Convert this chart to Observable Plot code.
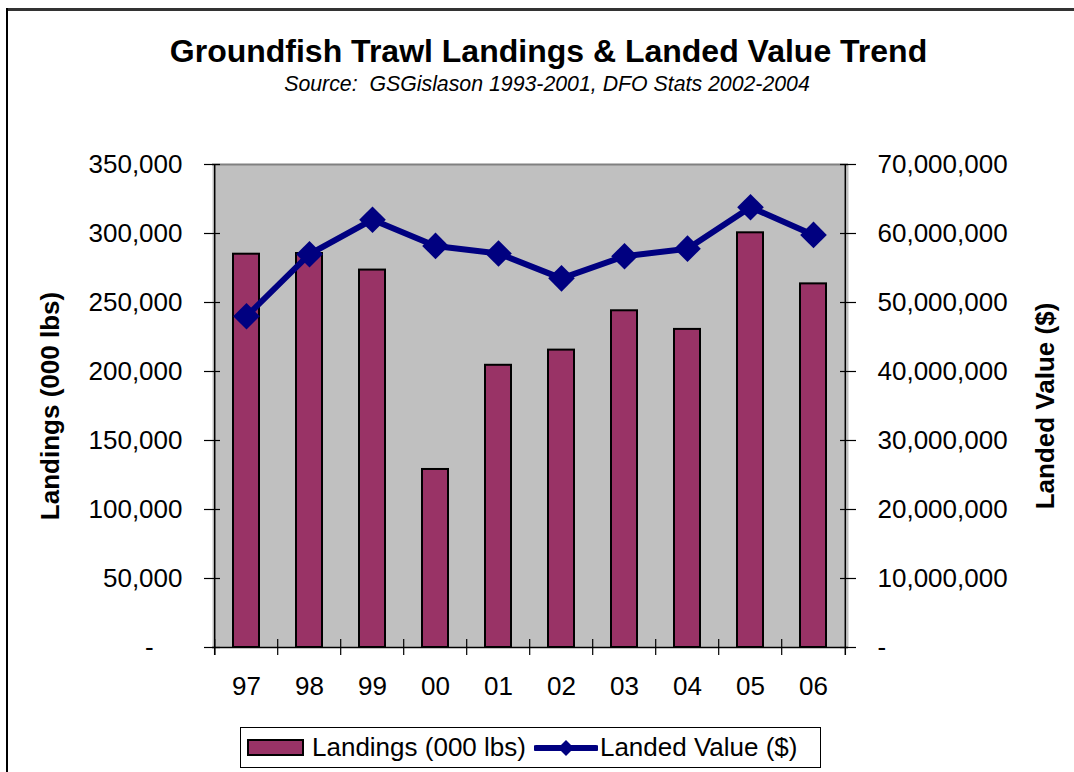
<!DOCTYPE html>
<html><head><meta charset="utf-8">
<script src="https://cdn.jsdelivr.net/npm/d3@7"></script>
<script src="https://cdn.jsdelivr.net/npm/@observablehq/plot@0.6"></script>
<style>
body{margin:0;background:#fff;font-family:"Liberation Sans",Arial,sans-serif;}
#wrap{position:relative;width:1074px;height:772px;overflow:hidden;background:#fff;}
#frameTop{position:absolute;left:7px;top:8px;width:1067px;height:3px;background:#333;}
#frameLeft{position:absolute;left:6px;top:8px;width:2px;height:764px;background:#000;}
#title{position:absolute;left:0;width:1097px;top:35px;text-align:center;font-weight:bold;font-size:32px;line-height:32px;white-space:nowrap;}
#subtitle{position:absolute;left:0;width:1094px;top:74px;text-align:center;font-style:italic;font-size:21.3px;line-height:21px;white-space:nowrap;}
#chart{position:absolute;left:0;top:120px;}
#legend{position:absolute;left:240px;top:727px;width:579px;height:39px;border:1px solid #000;background:#fff;display:flex;align-items:center;font-size:26px;white-space:nowrap;}
#sw1{display:inline-block;width:53px;height:13px;background:#993366;border:2px solid #000;margin-left:6px;margin-right:8px;}
#sw2{margin-left:8px;margin-right:2px;}
</style></head><body>
<div id="wrap">
  <div id="frameTop"></div><div id="frameLeft"></div>
  <div id="title">Groundfish Trawl Landings &amp; Landed Value Trend</div>
  <div id="subtitle">Source:&nbsp; GSGislason 1993-2001, DFO Stats 2002-2004</div>
  <div id="chart"></div>
  <div id="legend">
    <span id="sw1"></span><span>Landings (000 lbs)</span>
    <svg id="sw2" width="64" height="20" viewBox="0 0 64 20"><line x1="2" y1="10" x2="62" y2="10" stroke="#000080" stroke-width="6" stroke-linecap="round"/><path d="M32 2 L40 10 L32 18 L24 10 Z" fill="#000080"/></svg><span>Landed Value ($)</span>
  </div>
</div>
<script>
const years = ["97","98","99","00","01","02","03","04","05","06"];
const landings = [285000, 285500, 273500, 129000, 204500, 215500, 244000, 230500, 300500, 263500];
const landedValue = [48000000, 57000000, 62000000, 58200000, 57100000, 53500000, 56700000, 57800000, 63800000, 59800000];
const leftTicks = [0, 50000, 100000, 150000, 200000, 250000, 300000, 350000];
const rightTicks = [0, 10000000, 20000000, 30000000, 40000000, 50000000, 60000000, 70000000];
const ratio = rightTicks[rightTicks.length-1] / leftTicks[leftTicks.length-1];

const data = years.map((y, i) => ({year: y, landings: landings[i], value: landedValue[i]}));

const W = 1074, H = 600;
const mL = 212, mR = 226, mT = 44, mB = 73;
const innerW = W - mL - mR;
const step = innerW / years.length;
const tk = 8;
const fmt = d3.format(",");
const navy = "#000080";

const chart = Plot.plot({
  width: W, height: H,
  marginLeft: mL, marginRight: mR, marginTop: mT, marginBottom: mB,
  style: {fontFamily: "'Liberation Sans', Arial, sans-serif", fontSize: "26px", background: "transparent", overflow: "visible", color: "#000"},
  x: {type: "band", domain: years, paddingInner: 0.58, paddingOuter: 0.29, axis: null},
  y: {domain: [0, leftTicks[leftTicks.length-1]], axis: null},
  marks: [
    Plot.frame({fill: "#C0C0C0", stroke: null}),
    Plot.ruleY([leftTicks[leftTicks.length-1]], {stroke: "#808080", strokeWidth: 2}),
    Plot.barY(data, {x: "year", y: "landings", fill: "#993366", stroke: "#000", strokeWidth: 2}),
    // axis lines
    Plot.ruleY([0], {stroke: "#000", strokeWidth: 1.5}),
    Plot.ruleX([years[0]], {x: d => d, dx: -step/2, stroke: "#000", strokeWidth: 1.5, insetBottom: -tk}),
    Plot.ruleX([years[years.length-1]], {x: d => d, dx: step/2, stroke: "#000", strokeWidth: 1.5, insetBottom: -tk}),
    // category boundary ticks (crossing the x axis)
    Plot.ruleX(years, {x: d => d, dx: -step/2, y1: 0, y2: 0, insetTop: -tk, insetBottom: -tk, stroke: "#000", strokeWidth: 1.2}),
    // crossing tick marks on left and right axes
    Plot.ruleY(leftTicks, {y: d => d, insetLeft: -tk, insetRight: innerW - tk, stroke: "#000", strokeWidth: 1.2}),
    Plot.ruleY(rightTicks, {y: d => d / ratio, insetLeft: innerW - tk, insetRight: -tk, stroke: "#000", strokeWidth: 1.2}),
    Plot.axisY({anchor: "left", ticks: leftTicks, tickSize: 0, tickPadding: 30, fontSize: 26, label: null,
      tickFormat: d => d === 0 ? "-\u00a0\u00a0\u00a0\u00a0" : fmt(d)}),
    Plot.axisY({anchor: "right", ticks: rightTicks.map(v => v / ratio), tickSize: 0, tickPadding: 29, fontSize: 26, label: null,
      tickFormat: d => d === 0 ? "-" : fmt(d * ratio)}),
    Plot.axisX({anchor: "bottom", tickSize: 0, tickPadding: 29, fontSize: 26, label: null}),
    Plot.line(data, {x: "year", y: d => d.value / ratio, stroke: navy, strokeWidth: 6, strokeLinejoin: "miter"}),
    Plot.dot(data, {x: "year", y: d => d.value / ratio, symbol: "diamond2", r: 12, fill: navy, stroke: null}),
    Plot.text(["Landings (000 lbs)"], {frameAnchor: "left", textAnchor: "middle", dx: -162, rotate: -90, fontWeight: "bold", fontSize: 26, fill: "#000"}),
    Plot.text(["Landed Value ($)"], {frameAnchor: "right", textAnchor: "middle", dx: 197, rotate: -90, fontWeight: "bold", fontSize: 26, fill: "#000"})
  ]
});
document.getElementById("chart").appendChild(chart);
</script>
</body></html>
